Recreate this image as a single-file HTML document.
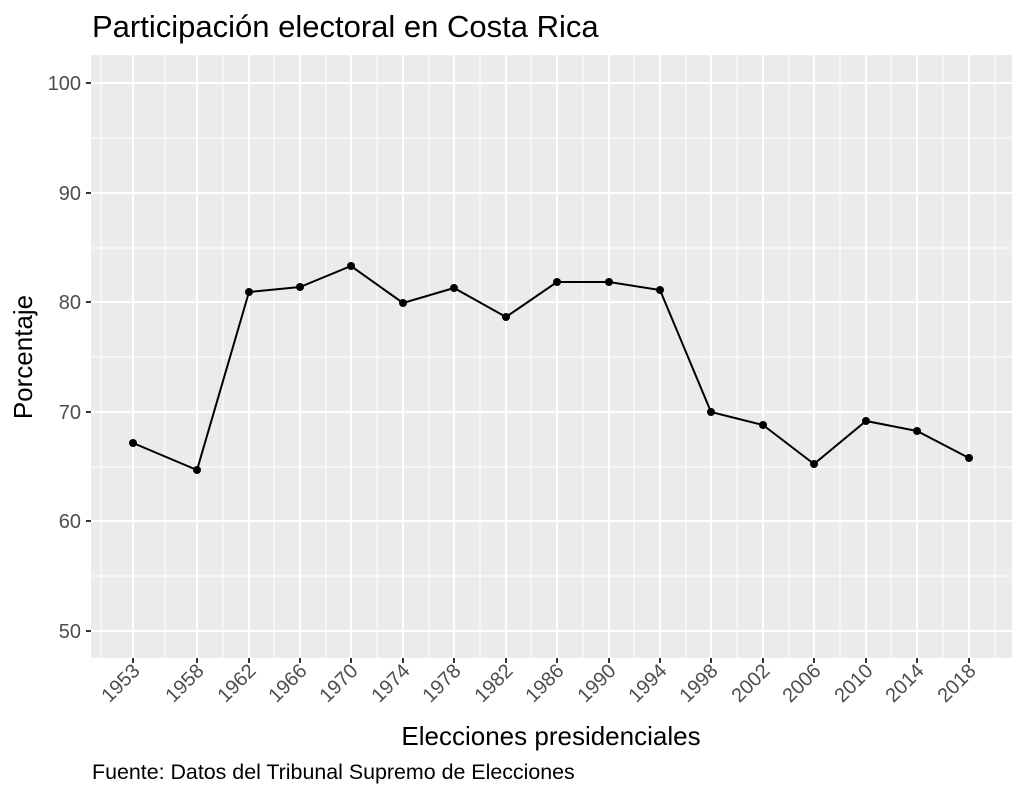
<!DOCTYPE html><html><head><style>body{margin:0;background:#fff}</style></head><body>
<svg width="1024" height="796" xmlns="http://www.w3.org/2000/svg" font-family="Liberation Sans, sans-serif">
<rect width="1024" height="796" fill="#fff"/>
<text x="92" y="37" font-size="31" fill="#000">Participación electoral en Costa Rica</text>
<rect x="91" y="55" width="921" height="603" fill="#ebebeb"/>
<g stroke="#fff" stroke-width="1">
<line x1="91" x2="1012" y1="576" y2="576"/><line x1="91" x2="1012" y1="467" y2="467"/><line x1="91" x2="1012" y1="357" y2="357"/><line x1="91" x2="1012" y1="248" y2="248"/><line x1="91" x2="1012" y1="138" y2="138"/>
<line y1="55" y2="658" x1="101" x2="101"/><line y1="55" y2="658" x1="165" x2="165"/><line y1="55" y2="658" x1="223" x2="223"/><line y1="55" y2="658" x1="274" x2="274"/><line y1="55" y2="658" x1="326" x2="326"/><line y1="55" y2="658" x1="377" x2="377"/><line y1="55" y2="658" x1="429" x2="429"/><line y1="55" y2="658" x1="480" x2="480"/><line y1="55" y2="658" x1="531" x2="531"/><line y1="55" y2="658" x1="583" x2="583"/><line y1="55" y2="658" x1="634" x2="634"/><line y1="55" y2="658" x1="686" x2="686"/><line y1="55" y2="658" x1="737" x2="737"/><line y1="55" y2="658" x1="789" x2="789"/><line y1="55" y2="658" x1="840" x2="840"/><line y1="55" y2="658" x1="891" x2="891"/><line y1="55" y2="658" x1="943" x2="943"/><line y1="55" y2="658" x1="995" x2="995"/>
</g>
<g stroke="#fff" stroke-width="2">
<line x1="91" x2="1012" y1="631" y2="631"/><line x1="91" x2="1012" y1="521" y2="521"/><line x1="91" x2="1012" y1="412" y2="412"/><line x1="91" x2="1012" y1="302" y2="302"/><line x1="91" x2="1012" y1="193" y2="193"/><line x1="91" x2="1012" y1="83" y2="83"/>
<line y1="55" y2="658" x1="133" x2="133"/><line y1="55" y2="658" x1="197" x2="197"/><line y1="55" y2="658" x1="249" x2="249"/><line y1="55" y2="658" x1="300" x2="300"/><line y1="55" y2="658" x1="351" x2="351"/><line y1="55" y2="658" x1="403" x2="403"/><line y1="55" y2="658" x1="454" x2="454"/><line y1="55" y2="658" x1="506" x2="506"/><line y1="55" y2="658" x1="557" x2="557"/><line y1="55" y2="658" x1="609" x2="609"/><line y1="55" y2="658" x1="660" x2="660"/><line y1="55" y2="658" x1="711" x2="711"/><line y1="55" y2="658" x1="763" x2="763"/><line y1="55" y2="658" x1="814" x2="814"/><line y1="55" y2="658" x1="866" x2="866"/><line y1="55" y2="658" x1="917" x2="917"/><line y1="55" y2="658" x1="969" x2="969"/>
</g>
<g stroke="#333" stroke-width="2">
<line x1="86" x2="91" y1="631" y2="631"/><line x1="86" x2="91" y1="521" y2="521"/><line x1="86" x2="91" y1="412" y2="412"/><line x1="86" x2="91" y1="302" y2="302"/><line x1="86" x2="91" y1="193" y2="193"/><line x1="86" x2="91" y1="83" y2="83"/>
</g>
<g fill="#4d4d4d" font-size="20" text-anchor="end">
<text x="81" y="638">50</text><text x="81" y="528">60</text><text x="81" y="419">70</text><text x="81" y="309">80</text><text x="81" y="200">90</text><text x="81" y="90">100</text>
</g>
<g fill="#4d4d4d" font-size="20" text-anchor="end">
<line x1="133" x2="133" y1="658" y2="663" stroke="#333" stroke-width="2"/><text transform="translate(141,672) rotate(-45)">1953</text>
<line x1="197" x2="197" y1="658" y2="663" stroke="#333" stroke-width="2"/><text transform="translate(205,672) rotate(-45)">1958</text>
<line x1="249" x2="249" y1="658" y2="663" stroke="#333" stroke-width="2"/><text transform="translate(257,672) rotate(-45)">1962</text>
<line x1="300" x2="300" y1="658" y2="663" stroke="#333" stroke-width="2"/><text transform="translate(308,672) rotate(-45)">1966</text>
<line x1="351" x2="351" y1="658" y2="663" stroke="#333" stroke-width="2"/><text transform="translate(359,672) rotate(-45)">1970</text>
<line x1="403" x2="403" y1="658" y2="663" stroke="#333" stroke-width="2"/><text transform="translate(411,672) rotate(-45)">1974</text>
<line x1="454" x2="454" y1="658" y2="663" stroke="#333" stroke-width="2"/><text transform="translate(462,672) rotate(-45)">1978</text>
<line x1="506" x2="506" y1="658" y2="663" stroke="#333" stroke-width="2"/><text transform="translate(514,672) rotate(-45)">1982</text>
<line x1="557" x2="557" y1="658" y2="663" stroke="#333" stroke-width="2"/><text transform="translate(565,672) rotate(-45)">1986</text>
<line x1="609" x2="609" y1="658" y2="663" stroke="#333" stroke-width="2"/><text transform="translate(617,672) rotate(-45)">1990</text>
<line x1="660" x2="660" y1="658" y2="663" stroke="#333" stroke-width="2"/><text transform="translate(668,672) rotate(-45)">1994</text>
<line x1="711" x2="711" y1="658" y2="663" stroke="#333" stroke-width="2"/><text transform="translate(719,672) rotate(-45)">1998</text>
<line x1="763" x2="763" y1="658" y2="663" stroke="#333" stroke-width="2"/><text transform="translate(771,672) rotate(-45)">2002</text>
<line x1="814" x2="814" y1="658" y2="663" stroke="#333" stroke-width="2"/><text transform="translate(822,672) rotate(-45)">2006</text>
<line x1="866" x2="866" y1="658" y2="663" stroke="#333" stroke-width="2"/><text transform="translate(874,672) rotate(-45)">2010</text>
<line x1="917" x2="917" y1="658" y2="663" stroke="#333" stroke-width="2"/><text transform="translate(925,672) rotate(-45)">2014</text>
<line x1="969" x2="969" y1="658" y2="663" stroke="#333" stroke-width="2"/><text transform="translate(977,672) rotate(-45)">2018</text>
</g>
<polyline fill="none" stroke="#000" stroke-width="2" points="133,443 197,470 249,292 300,287 351,266 403,303 454,288 506,317 557,282 609,282 660,290 711,412 763,425 814,464 866,421 917,431 969,458"/>
<g fill="#000">
<circle cx="133" cy="443" r="4"/><circle cx="197" cy="470" r="4"/><circle cx="249" cy="292" r="4"/><circle cx="300" cy="287" r="4"/><circle cx="351" cy="266" r="4"/><circle cx="403" cy="303" r="4"/><circle cx="454" cy="288" r="4"/><circle cx="506" cy="317" r="4"/><circle cx="557" cy="282" r="4"/><circle cx="609" cy="282" r="4"/><circle cx="660" cy="290" r="4"/><circle cx="711" cy="412" r="4"/><circle cx="763" cy="425" r="4"/><circle cx="814" cy="464" r="4"/><circle cx="866" cy="421" r="4"/><circle cx="917" cy="431" r="4"/><circle cx="969" cy="458" r="4"/>
</g>
<text x="551" y="745" font-size="26" text-anchor="middle" fill="#000">Elecciones presidenciales</text>
<text transform="translate(32,357) rotate(-90)" font-size="26" text-anchor="middle" fill="#000">Porcentaje</text>
<text x="92" y="779" font-size="21.4" fill="#000">Fuente: Datos del Tribunal Supremo de Elecciones</text>
</svg></body></html>
